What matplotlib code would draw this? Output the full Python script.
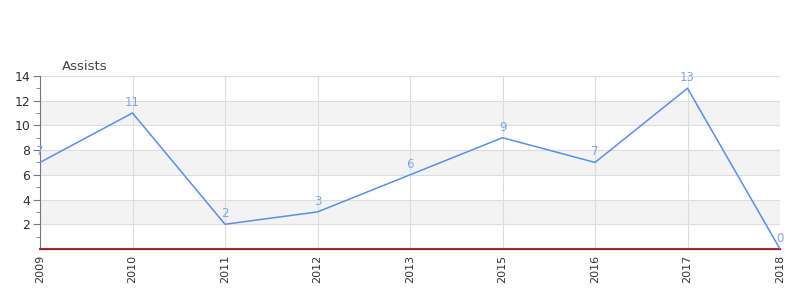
import matplotlib
matplotlib.use("Agg")
import matplotlib.pyplot as plt
import numpy as np

# seasons and assists per season
years = ["2009", "2010", "2011", "2012", "2013", "2015", "2016", "2017", "2018"]
assists = [7, 11, 2, 3, 6, 9, 7, 13, 0]
yticks = [2, 4, 6, 8, 10, 12, 14]

fig = plt.figure(figsize=(8, 3), dpi=100)
ax = fig.add_axes([0.05, 0.17, 0.925, 0.577])

x = np.arange(len(years))
ax.set_xlim(0, len(years) - 1)
ax.set_ylim(0, 14)

# alternating bands
for lo in [2, 6, 10]:
    ax.axhspan(lo, lo + 2, color="#f3f3f3", zorder=0, lw=0)

ax.grid(True, color="#dddddd", lw=0.8, zorder=1)
ax.set_axisbelow(True)

ax.plot(x, assists, color="#5b8ee6", lw=1.1, zorder=3)
for xi, v in zip(x, assists):
    ax.annotate(str(v), (xi, v), xytext=(0, 3), textcoords="offset points",
                ha="center", va="bottom", fontsize=8.5, color="#7fa6ec", zorder=4)

ax.set_xticks(x)
ax.set_xticklabels(years, rotation=90, fontsize=8, color="#333333")
ax.set_yticks(yticks)
ax.set_yticklabels([str(t) for t in yticks], fontsize=9, color="#333333")
ax.set_yticks(np.arange(1, 14, 2), minor=True)
ax.tick_params(axis="y", which="major", length=5, color="#777777", pad=2)
ax.tick_params(axis="y", which="minor", length=3, color="#777777")
ax.tick_params(axis="x", length=0, pad=4)

for side in ["top", "right"]:
    ax.spines[side].set_visible(False)
ax.spines["left"].set_color("#777777")
ax.spines["bottom"].set_color("#555555")
ax.spines["bottom"].set_linewidth(1.5)

# red zero line on top of the bottom spine
ax.axhline(0, color="#cc0000", lw=0.8, zorder=2.6, clip_on=False)

fig.text(62 / 800, 1 - 66 / 300, "Assists", fontsize=9.5, color="#444444",
         ha="left", va="center")

fig.savefig("out.png", dpi=100)
